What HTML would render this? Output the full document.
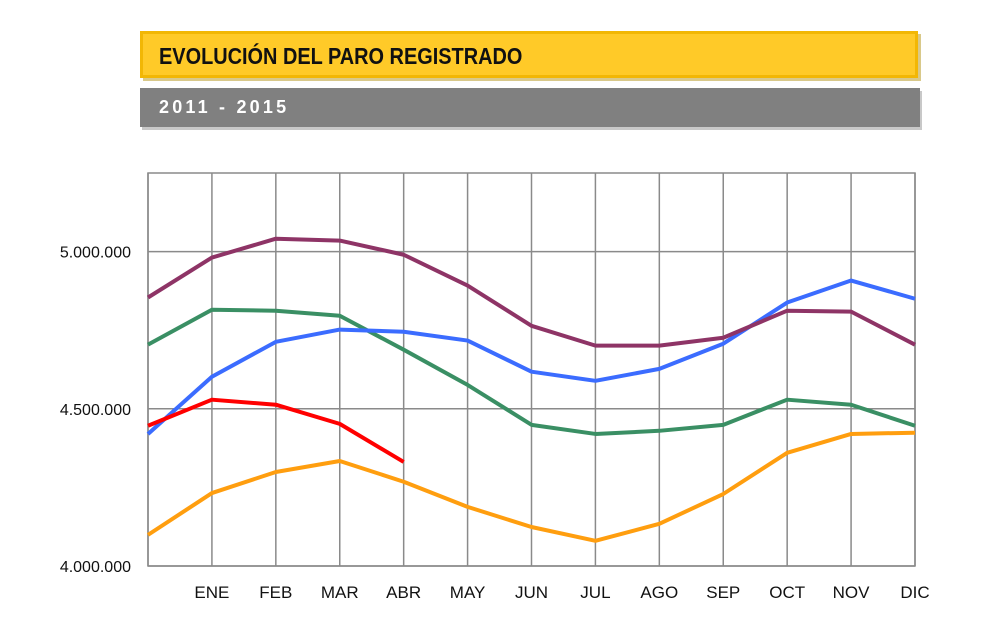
<!DOCTYPE html>
<html><head><meta charset="utf-8"><style>
body{margin:0;background:#fff;width:1000px;height:644px;overflow:hidden;font-family:"Liberation Sans",sans-serif;}
#title{position:absolute;left:140px;top:31px;width:772px;height:41px;background:#ffca28;border:3px solid #f2b705;box-shadow:3px 3px 0 #d9c98a;}
#title span{position:absolute;left:16px;top:9px;font-weight:bold;font-size:23px;color:#111;transform:scaleX(0.866);transform-origin:0 0;white-space:nowrap;}
#sub{position:absolute;left:140px;top:88px;width:780px;height:39px;background:#808080;box-shadow:2px 3px 0 #c8c8c8;}
#sub span{position:absolute;left:19px;top:9px;font-weight:bold;font-size:18px;letter-spacing:3.2px;color:#fff;}
</style></head><body>
<div id="title"><span>EVOLUCIÓN DEL PARO REGISTRADO</span></div>
<div id="sub"><span>2011 - 2015</span></div>
<svg id="chart" width="1000" height="644" style="position:absolute;left:0;top:0"></svg>
<script>
const categories=["","ENE","FEB","MAR","ABR","MAY","JUN","JUL","AGO","SEP","OCT","NOV","DIC"];
const yTicks=[4000000,4500000,5000000];
const yTickLabels=["4.000.000","4.500.000","5.000.000"];
const s2011=[4854000,4981000,5041000,5035000,4990000,4892000,4764000,4701000,4701000,4726000,4812000,4809000,4704000];
const s2012=[4704000,4815000,4812000,4796000,4688000,4576000,4449000,4420000,4430000,4449000,4529000,4513000,4446000];
const s2013=[4420000,4602000,4713000,4752000,4745000,4717000,4618000,4589000,4627000,4707000,4838000,4908000,4850000];
const s2014=[4099000,4232000,4299000,4334000,4268000,4188000,4124000,4080000,4134000,4229000,4360000,4420000,4424000];
const s2015=[4446000,4529000,4513000,4452000,4331000];
const NS="http://www.w3.org/2000/svg";
const svg=document.getElementById('chart');
const L=148,R=915,T=173,B=566,yMin=4000000,yMax=5250000;
const x=i=>L+(R-L)*i/(categories.length-1);
const y=v=>B-(v-yMin)/(yMax-yMin)*(B-T);
function el(tag,attrs){const e=document.createElementNS(NS,tag);for(const k in attrs)e.setAttribute(k,attrs[k]);svg.appendChild(e);return e;}
const frame=el('rect',{x:L,y:T,width:R-L,height:B-T,fill:'none',stroke:'#8a8a8a','stroke-width':1.5});


categories.forEach((c,i)=>{
  const g=el('line',{x1:x(i),x2:x(i),y1:T,y2:B,stroke:'#8a8a8a','stroke-width':1.5});
  
  
  if(c){const t=el('text',{x:x(i),y:598,'text-anchor':'middle','font-size':17,fill:'#111'});t.textContent=c;
  
  }
});
yTicks.forEach((v,i)=>{
  const g=el('line',{x1:L,x2:R,y1:y(v),y2:y(v),stroke:'#8a8a8a','stroke-width':1.5});
  
  
  const t=el('text',{x:131,y:y(v)+6,'text-anchor':'end','font-size':16,fill:'#111'});t.textContent=yTickLabels[i];
  
  
});
const series=[[s2014,'#ff9e0f','series-2014'],[s2012,'#3a8f64','series-2012'],[s2013,'#3b6cff','series-2013'],[s2011,'#8e3466','series-2011'],[s2015,'#ff0000','series-2015']];
series.forEach(([d,col,name])=>{
  const p=el('polyline',{points:d.map((v,i)=>x(i)+','+y(v)).join(' '),fill:'none',stroke:col,'stroke-width':4,'stroke-linejoin':'round'});
  
  
});
</script>
</body></html>
